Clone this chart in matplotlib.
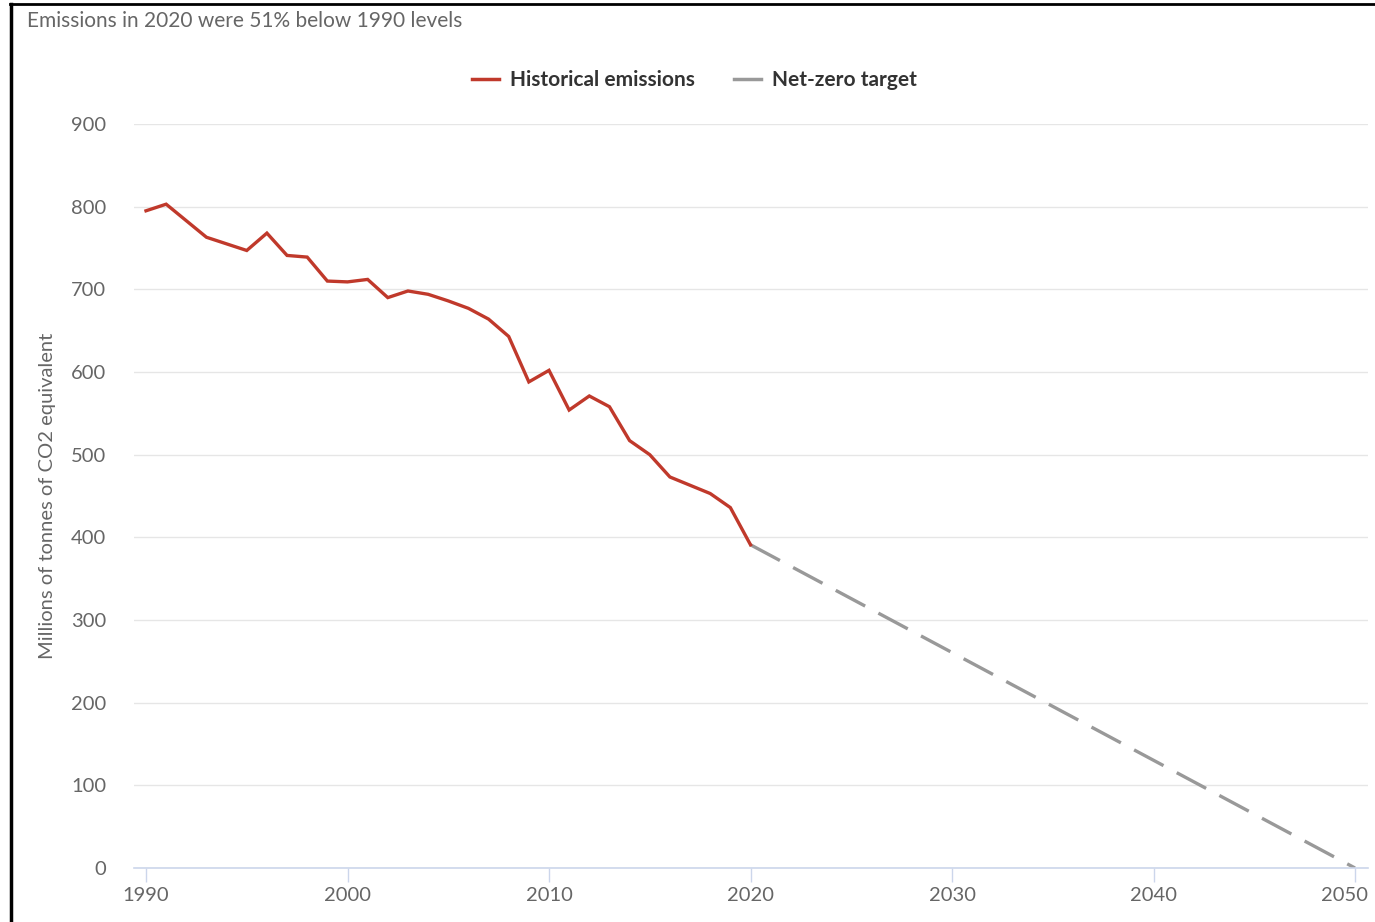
import numpy as np
import matplotlib.pyplot as plt
import matplotlib.transforms as mtransforms
from matplotlib.lines import Line2D

plt.rcParams['font.family'] = ['Lato', 'DejaVu Sans']

# Historical emissions (millions of tonnes CO2e)
years = list(range(1990, 2021))
emissions = [795, 803, 783, 763, 755, 747, 768, 741, 739, 710,
             709, 712, 690, 698, 694, 686, 677, 664, 643, 588,
             602, 554, 571, 558, 517, 500, 473, 463, 453, 436,
             391]

# Net-zero path
target_years = [2020, 2050]
target_values = [391, 0]

x_ticks = [1990, 2000, 2010, 2020, 2030, 2040, 2050]
y_ticks = [0, 100, 200, 300, 400, 500, 600, 700, 800, 900]

fig = plt.figure(figsize=(13.75, 9.22), dpi=100)
ax = fig.add_axes([134 / 1375, 1 - 868 / 922, (1368 - 134) / 1375, (868 - 124) / 922])

ax.plot(years, emissions, color='#c0392b', linewidth=2.4, solid_joinstyle='miter',
        label='Historical emissions', zorder=3)
ax.plot(target_years, target_values, color='#999999', linewidth=2.4,
        dashes=(10, 4.5), label='Net-zero target', zorder=2)

ax.set_xlim(1990 - 12 / 20.15, 2050 + 13 / 20.15)
ax.set_ylim(0, 900)
ax.set_xticks(x_ticks)
ax.set_yticks(y_ticks)
ax.grid(axis='y', color='#e6e6e6', linewidth=1)
ax.set_axisbelow(True)

for side in ['top', 'right', 'left']:
    ax.spines[side].set_visible(False)
ax.spines['bottom'].set_color('#ccd6eb')
ax.spines['bottom'].set_linewidth(1.2)

ax.tick_params(axis='x', colors='#ccd6eb', length=10, width=1, labelcolor='#666666',
               labelsize=14.5, pad=4)
ax.tick_params(axis='y', length=0, labelcolor='#666666', labelsize=14.5, pad=20)

# last x label is pushed left so it stays inside the image
fig.canvas.draw()
last = ax.get_xticklabels()[-1]
last.set_transform(last.get_transform() + mtransforms.ScaledTranslation(-0.11, 0, fig.dpi_scale_trans))

ax.set_ylabel('Millions of tonnes of CO2 equivalent', color='#666666', fontsize=14.5)
ax.yaxis.set_label_coords(-0.063, 0.5)

leg = ax.legend(loc='center', bbox_to_anchor=(0.454, (868 - 80) / 744), ncol=2,
                frameon=False, fontsize=15, handlelength=1.3, columnspacing=1.9,
                handletextpad=0.5)
for t in leg.get_texts():
    t.set_color('#333333')
    t.set_fontweight('bold')
for h in leg.get_lines():
    h.set_linestyle('-')
    h.set_linewidth(2.5)

fig.text(27 / 1375, 1 - 21 / 922, 'Emissions in 2020 were 51% below 1990 levels',
         color='#666666', fontsize=15, va='center', ha='left')

# frame lines on left and top of the image
fig.add_artist(Line2D([11 / 1375, 11 / 1375], [0, 1 - 4 / 922], color='black', linewidth=2.5))
fig.add_artist(Line2D([10 / 1375, 1], [1 - 4 / 922, 1 - 4 / 922], color='black', linewidth=2))

fig.savefig('out.png', dpi=100)
